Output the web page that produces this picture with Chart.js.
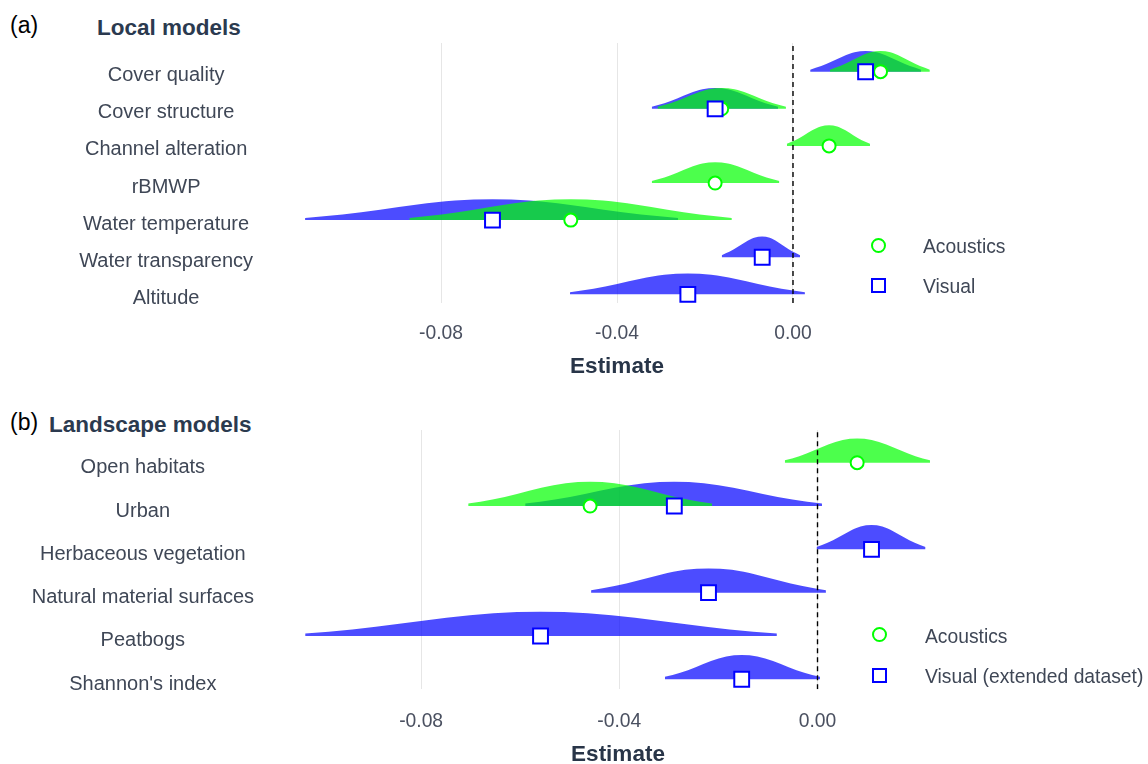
<!DOCTYPE html>
<html lang="en">
<head>
  <meta charset="UTF-8">
  <title>Local and landscape model estimates</title>
  <script src="https://cdn.jsdelivr.net/npm/chart.js"></script>
  <style>
    body {
      margin: 0;
      width: 1148px;
      height: 764px;
      position: relative;
      overflow: hidden;
      background: #fff;
      font-family: "Liberation Sans", Arial, sans-serif;
    }
    canvas { position: absolute; left: 0; }
    .txt { position: absolute; white-space: nowrap; }
    .tag { font-size: 23px; line-height: 23px; color: #000; }
    .title { font-size: 22.5px; line-height: 22.5px; font-weight: bold; color: #2b3a4f; }
    .leg { font-size: 19.3px; line-height: 19.3px; color: #3f4756; }
    .dot { position: absolute; width: 11px; height: 11px; border: 2px solid #00ff00; border-radius: 50%; }
    .box { position: absolute; width: 11px; height: 11px; border: 2px solid #0000ff; }
  </style>
</head>
<body>
  <div class="txt tag" style="left:10px; top:13.5px;">(a)</div>
  <div class="txt title" style="left:97px; top:16.5px;">Local models</div>
  <canvas id="localChart" width="1148" height="385" style="top:0;"></canvas>

  <div class="txt tag" style="left:10px; top:411px;">(b)</div>
  <div class="txt title" style="left:49px; top:413.5px;">Landscape models</div>
  <canvas id="landscapeChart" width="1148" height="379" style="top:385px;"></canvas>

  <!-- legends -->
  <div class="dot" style="left:870.5px; top:237.8px;"></div>
  <div class="txt leg" style="left:923px; top:237.3px;">Acoustics</div>
  <div class="box" style="left:870.5px; top:278px;"></div>
  <div class="txt leg" style="left:923px; top:277.3px;">Visual</div>

  <div class="dot" style="left:872.2px; top:627px;"></div>
  <div class="txt leg" style="left:925px; top:627.3px;">Acoustics</div>
  <div class="box" style="left:872.2px; top:668.3px;"></div>
  <div class="txt leg" style="left:925px; top:667.3px;">Visual (extended dataset)</div>

  <script>
    // (a) local models, top row first
    const localRows = ['Cover quality', 'Cover structure', 'Channel alteration', 'rBMWP',
      'Water temperature', 'Water transparency', 'Altitude'];
    const localAcousticEst  = [0.0199, -0.0162, 0.0082, -0.0177, -0.0505, null, null];
    const localAcousticLow  = [0.0084, -0.0308, -0.0014, -0.0321, -0.0872, null, null];
    const localAcousticHigh = [0.0311, -0.0016, 0.0175, -0.0031, -0.0139, null, null];
    const localVisualEst  = [0.0165, -0.0177, null, null, -0.0683, -0.0070, -0.0239];
    const localVisualLow  = [0.0039, -0.0321, null, null, -0.1109, -0.0162, -0.0507];
    const localVisualHigh = [0.0291, -0.0034, null, null, -0.0261, 0.0016, 0.0027];

    // (b) landscape models
    const landscapeRows = ['Open habitats', 'Urban', 'Herbaceous vegetation',
      'Natural material surfaces', 'Peatbogs', "Shannon's index"];
    const landscapeAcousticEst  = [0.0080, -0.0459, null, null, null, null];
    const landscapeAcousticLow  = [-0.0066, -0.0705, null, null, null, null];
    const landscapeAcousticHigh = [0.0227, -0.0213, null, null, null, null];
    const landscapeVisualEst  = [null, -0.0289, 0.0109, -0.0220, -0.0559, -0.0153];
    const landscapeVisualLow  = [null, -0.0590, -0.0002, -0.0457, -0.1034, -0.0308];
    const landscapeVisualHigh = [null, 0.0009, 0.0218, 0.0017, -0.0082, 0.0005];

    const xTicks = [-0.08, -0.04, 0.00];

    // shape of one density (relative position, relative height)
    const profileT = [-1, -0.8, -0.6, -0.4, -0.2, 0, 0.2, 0.4, 0.6, 0.8, 1];
    const profileH = [0.10, 0.27, 0.50, 0.75, 0.94, 1, 0.94, 0.75, 0.50, 0.27, 0.10];

    const DENSITY_H = 0.56;
    const BLUE = 'rgba(0, 0, 255, 0.7)';
    const GREEN = 'rgba(0, 255, 0, 0.7)';

    Chart.defaults.font.family = '"Liberation Sans", Arial, sans-serif';

    function densityDatasets(rows, est, lo, hi, color, order) {
      const n = rows.length;
      const out = [];
      rows.forEach((name, i) => {
        if (est[i] === null) return;
        const base = n - 1 - i;
        const pts = profileT.map((t, k) => ({
          x: t < 0 ? est[i] + t * (est[i] - lo[i]) : est[i] + t * (hi[i] - est[i]),
          y: base + DENSITY_H * profileH[k]
        }));
        out.push({
          type: 'line',
          label: name,
          data: pts,
          fill: { value: base },
          backgroundColor: color,
          borderColor: 'rgba(0,0,0,0)',
          borderWidth: 0,
          pointRadius: 0,
          cubicInterpolationMode: 'monotone',
          order: order
        });
      });
      return out;
    }

    function pointDataset(rows, est, style, color, radius, order) {
      const n = rows.length;
      const data = [];
      est.forEach((v, i) => {
        if (v !== null) data.push({ x: v, y: n - 1 - i });
      });
      return {
        type: 'line',
        showLine: false,
        data: data,
        pointStyle: style,
        pointRadius: radius,
        pointBackgroundColor: '#ffffff',
        pointBorderColor: color,
        pointBorderWidth: 2,
        order: order
      };
    }

    function makePanel(id, p) {
      const n = p.rows.length;
      const datasets = [
        pointDataset(p.rows, p.visEst, 'rect', '#0000ff', 10.5, 0),
        pointDataset(p.rows, p.acEst, 'circle', '#00ff00', 6.5, 1),
        {
          type: 'line',
          data: [{ x: 0, y: p.yMin }, { x: 0, y: p.yMax }],
          borderColor: '#000000',
          borderWidth: 1.4,
          borderDash: [5, 4],
          pointRadius: 0,
          order: 2
        },
        ...densityDatasets(p.rows, p.acEst, p.acLow, p.acHigh, GREEN, 3),
        ...densityDatasets(p.rows, p.visEst, p.visLow, p.visHigh, BLUE, 4)
      ];

      return new Chart(document.getElementById(id), {
        type: 'line',
        data: { datasets: datasets },
        options: {
          responsive: false,
          animation: false,
          events: [],
          layout: { padding: { left: 0, top: p.top, right: p.right, bottom: 0 } },
          plugins: { legend: { display: false }, tooltip: { enabled: false } },
          scales: {
            x: {
              type: 'linear',
              min: p.xMin,
              max: p.xMax,
              afterBuildTicks: s => { s.ticks = xTicks.map(v => ({ value: v })); },
              afterFit: s => { s.height = p.axisH; },
              ticks: {
                callback: v => Number(v).toFixed(2),
                font: { size: 19.3 },
                color: '#4a5060',
                padding: p.tickPad,
                maxRotation: 0,
                autoSkip: false
              },
              grid: { color: '#e6e6e6', lineWidth: 1, drawTicks: false },
              border: { display: false },
              title: {
                display: true,
                text: 'Estimate',
                color: '#283548',
                font: { size: 22.5, weight: 'bold', lineHeight: 1 },
                padding: { top: 0, bottom: p.titlePad }
              }
            },
            y: {
              type: 'linear',
              min: p.yMin,
              max: p.yMax,
              afterBuildTicks: s => { s.ticks = p.rows.map((r, i) => ({ value: n - 1 - i })); },
              afterFit: s => {
                s.width = 290;
                s.paddingTop = 0;
                s.paddingBottom = 0;
              },
              ticks: {
                callback: v => p.rows[n - 1 - Math.round(v)],
                crossAlign: 'center',
                padding: p.labelPad,
                labelOffset: p.labelOffset,
                font: { size: 20 },
                color: '#3f4756',
                autoSkip: false
              },
              grid: { display: false, drawTicks: false },
              border: { display: false }
            }
          }
        }
      });
    }

    makePanel('localChart', {
      rows: localRows,
      acEst: localAcousticEst, acLow: localAcousticLow, acHigh: localAcousticHigh,
      visEst: localVisualEst, visLow: localVisualLow, visHigh: localVisualHigh,
      xMin: -0.11432, xMax: 0.03432,
      yMin: -0.234, yMax: 6.774,
      top: 43, right: 204, axisH: 82,
      tickPad: 19, titlePad: 7, labelPad: 37, labelOffset: 4
    });

    makePanel('landscapeChart', {
      rows: landscapeRows,
      acEst: landscapeAcousticEst, acLow: landscapeAcousticLow, acHigh: landscapeAcousticHigh,
      visEst: landscapeVisualEst, visLow: landscapeVisualLow, visHigh: landscapeVisualHigh,
      xMin: -0.10646, xMax: 0.02593,
      yMin: -0.231, yMax: 5.755,
      top: 45, right: 202, axisH: 74.7,
      tickPad: 21, titlePad: -2, labelPad: 36, labelOffset: 5
    });
  </script>
</body>
</html>
